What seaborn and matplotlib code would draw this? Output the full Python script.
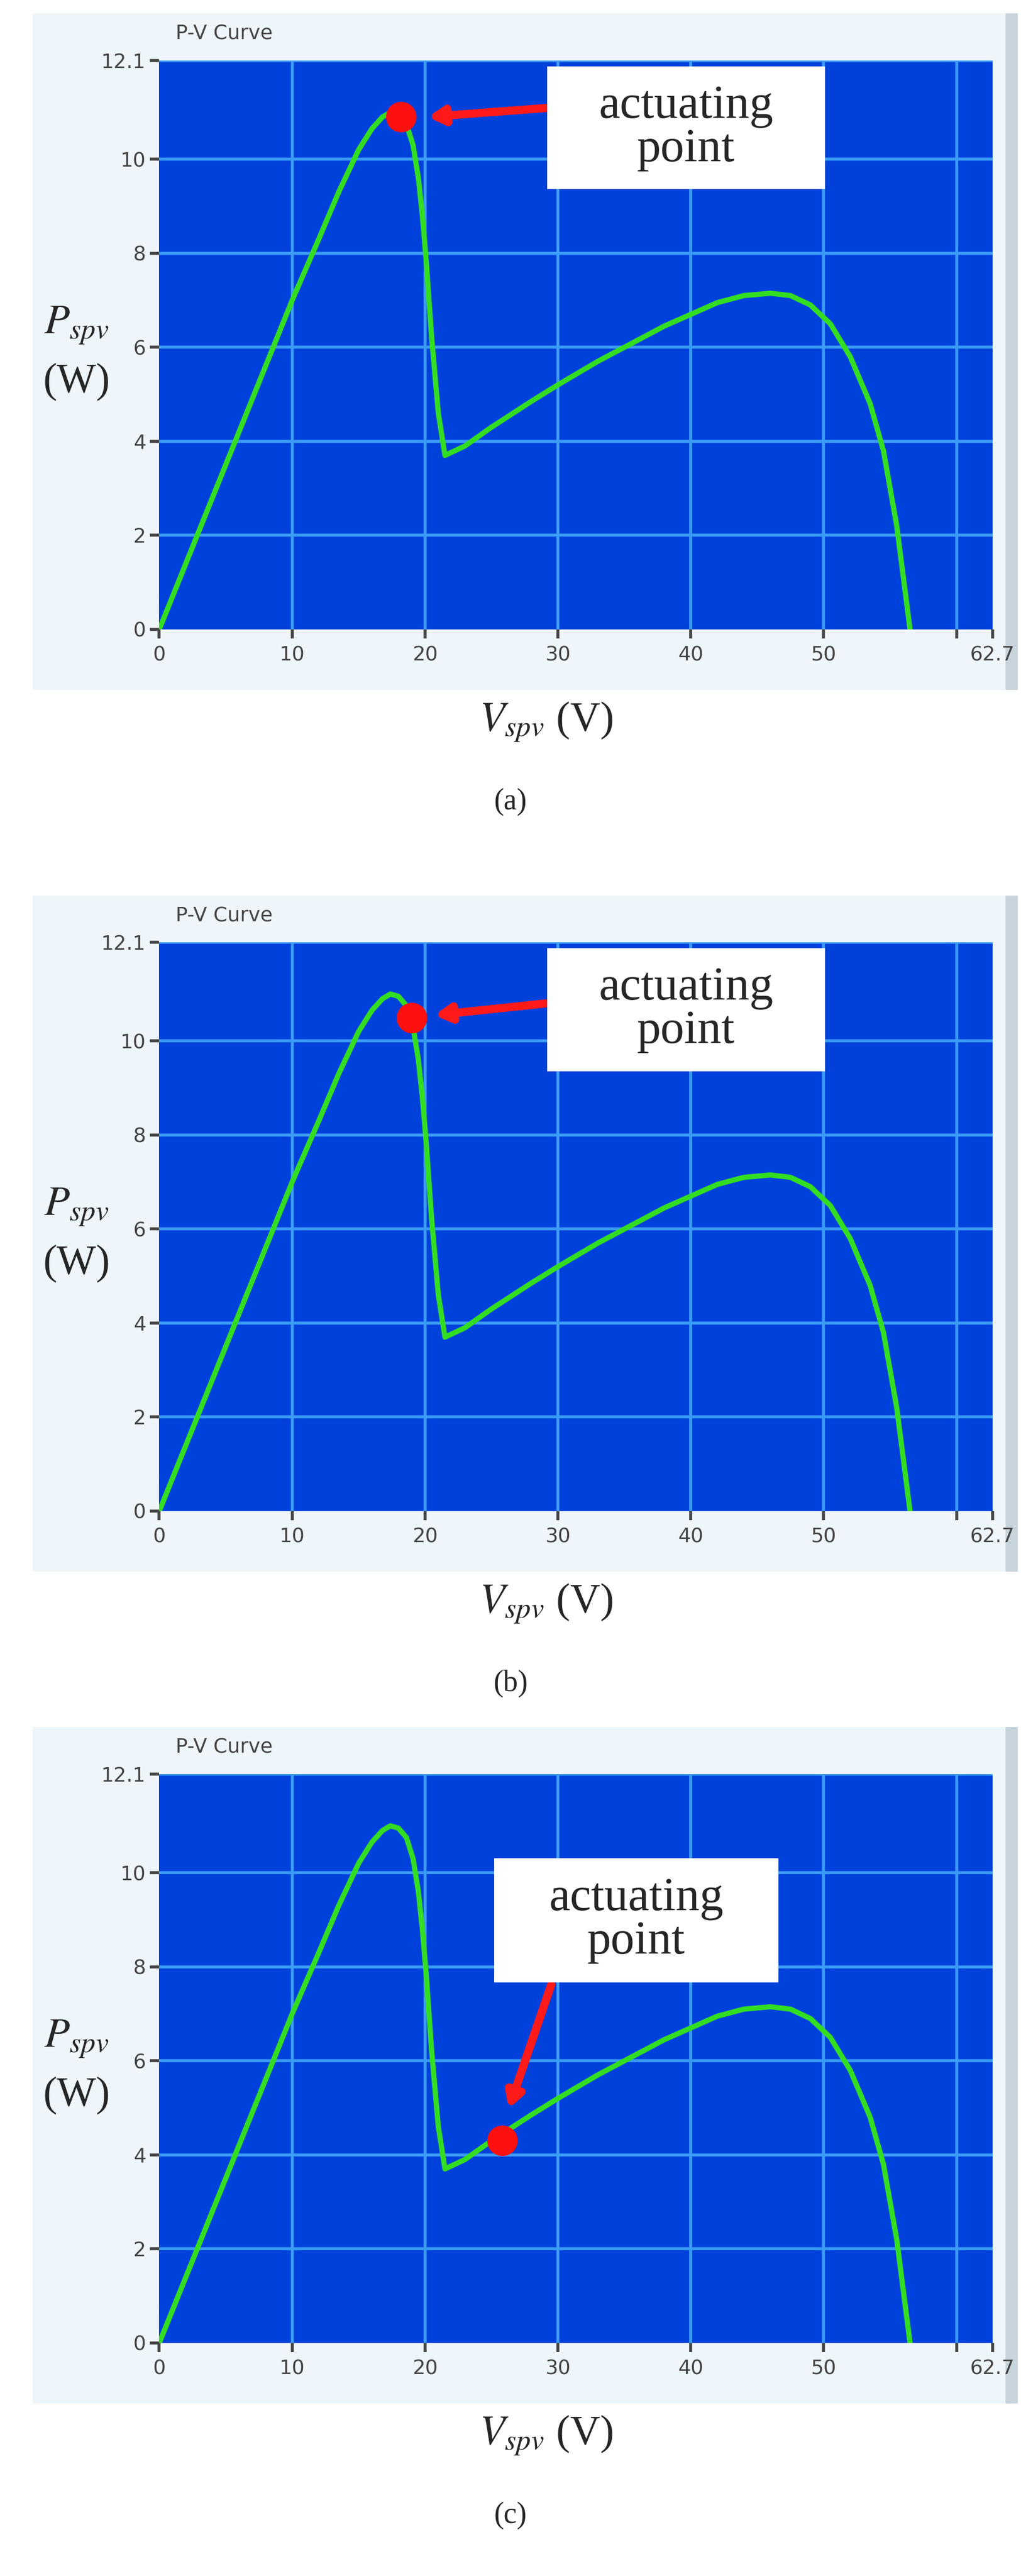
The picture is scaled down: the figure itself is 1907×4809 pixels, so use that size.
import numpy as np
import pandas as pd
import matplotlib.pyplot as plt
from matplotlib.patches import Rectangle
import seaborn as sns

# P-V curve (same in all three panels)
voltage = [0, 2, 5, 8, 10, 12, 13.5, 15, 16, 16.8, 17.4, 18.0, 18.6, 19.1, 19.5, 19.8, 20.1,
           20.5, 21.0, 21.5, 23, 25, 28, 30, 33, 35, 38, 40, 42, 44, 46, 47.5, 49, 50.5,
           52, 53.5, 54.5, 55.5, 56.5]
power = [0, 1.4, 3.5, 5.6, 7.0, 8.3, 9.3, 10.2, 10.65, 10.9, 11.0, 10.95, 10.75, 10.3, 9.6,
         8.8, 7.8, 6.2, 4.6, 3.7, 3.9, 4.3, 4.85, 5.2, 5.7, 6.0, 6.45, 6.7, 6.95, 7.1, 7.15,
         7.1, 6.9, 6.5, 5.8, 4.8, 3.8, 2.2, 0]

# actuating point per panel
act_v = [18.2, 19.0, 25.8]
act_p = [10.9, 10.5, 4.3]
captions = ["a", "b", "c"]

# annotation box extents (data coords), arrow tails and heads
box_x = [(29.2, 50.1), (29.2, 50.1), (25.2, 46.6)]
box_y = [(9.36, 11.98), (9.36, 11.98), (7.67, 10.31)]
arrow_tail = [(29.1, 11.09), (29.1, 10.8), (29.5, 7.62)]
arrow_head = [(20.2, 10.9), (20.7, 10.55), (26.3, 4.98)]

xticks = [0, 10, 20, 30, 40, 50, 62.7]
xlabels = ["0", "10", "20", "30", "40", "50", "62.7"]
yticks = [0, 2, 4, 6, 8, 10, 12.1]
ylabels = ["0", "2", "4", "6", "8", "10", "12.1"]

sns.set_style("white")
plt.rcParams['font.family'] = ['DejaVu Sans']

W, H = 1907, 4809
fig = plt.figure(figsize=(W / 100, H / 100), dpi=100)
df = pd.DataFrame({"V": voltage, "P": power})

bottoms = [0.7557, 0.4134, 0.0905]
serif = "Liberation Serif"

for i in range(3):
    b = bottoms[i]
    h = 0.2208
    # light panel background
    fig.patches.append(Rectangle((0.032, b - 0.0235), 0.953, 0.2625, transform=fig.transFigure,
                                 facecolor="#eef6fb", edgecolor="none", zorder=-5))
    fig.patches.append(Rectangle((0.985, b - 0.0235), 0.012, 0.2625, transform=fig.transFigure,
                                 facecolor="#c8d4dc", edgecolor="none", zorder=-5))
    fig.text(0.172, b + 0.231, "P-V Curve", fontsize=27, color="#444444", va="center")

    ax = fig.add_axes([0.156, b, 0.816, h])
    ax.set_facecolor("#0041dc")
    sns.lineplot(data=df, x="V", y="P", ax=ax, color="#33dd22", linewidth=7, sort=False)
    ax.set_xlim(0, 62.7)
    ax.set_ylim(0, 12.1)
    for gx in [10, 20, 30, 40, 50, 60]:
        ax.axvline(gx, color="#3b9cf5", lw=4, zorder=0.5)
    for gy in [2, 4, 6, 8, 10, 12.1]:
        ax.axhline(gy, color="#3b9cf5", lw=4, zorder=0.5)
    ax.set_xticks(xticks + [60])
    ax.set_xticklabels(xlabels + [""])
    ax.set_yticks(yticks)
    ax.set_yticklabels(ylabels)
    ax.tick_params(axis="both", colors="#444444", labelsize=27, length=12, width=4, direction="out",
                   left=True, bottom=True, pad=6)
    ax.tick_params(axis="x", pad=10)
    for s in ax.spines.values():
        s.set_visible(False)
    ax.set_xlabel("")
    ax.set_ylabel("")

    # actuating point
    ax.plot(act_v[i], act_p[i], "o", color="#ff1010", markersize=40, zorder=5)
    ax.annotate("", xy=arrow_head[i], xytext=arrow_tail[i],
                arrowprops=dict(arrowstyle="-|>,head_length=1.6,head_width=0.9", color="#ff1a1a",
                                lw=11, shrinkA=0, shrinkB=0), zorder=6)
    x0, x1 = box_x[i]
    y0, y1 = box_y[i]
    ax.add_patch(Rectangle((x0, y0), x1 - x0, y1 - y0, facecolor="white", edgecolor="none", zorder=7))
    ax.text((x0 + x1) / 2, (y0 + y1) / 2, "actuating\npoint", ha="center", va="center",
            fontsize=64, family=serif, linespacing=1.0, zorder=8)

    # axis labels
    fig.text(0.075, b + 0.118, r"$P_{spv}$", fontsize=56, ha="center", va="center",
             family=serif, math_fontfamily="stix")
    fig.text(0.075, b + 0.096, "(W)", fontsize=56, ha="center", va="center", family=serif)
    fig.text(0.535, b - 0.036, r"$V_{spv}$ (V)", fontsize=56, ha="center", va="center",
             family=serif, math_fontfamily="stix")
    fig.text(0.5, b - 0.067, f"({captions[i]})", fontsize=40, ha="center", va="center", family=serif)

fig.savefig("out.png", dpi=100)
